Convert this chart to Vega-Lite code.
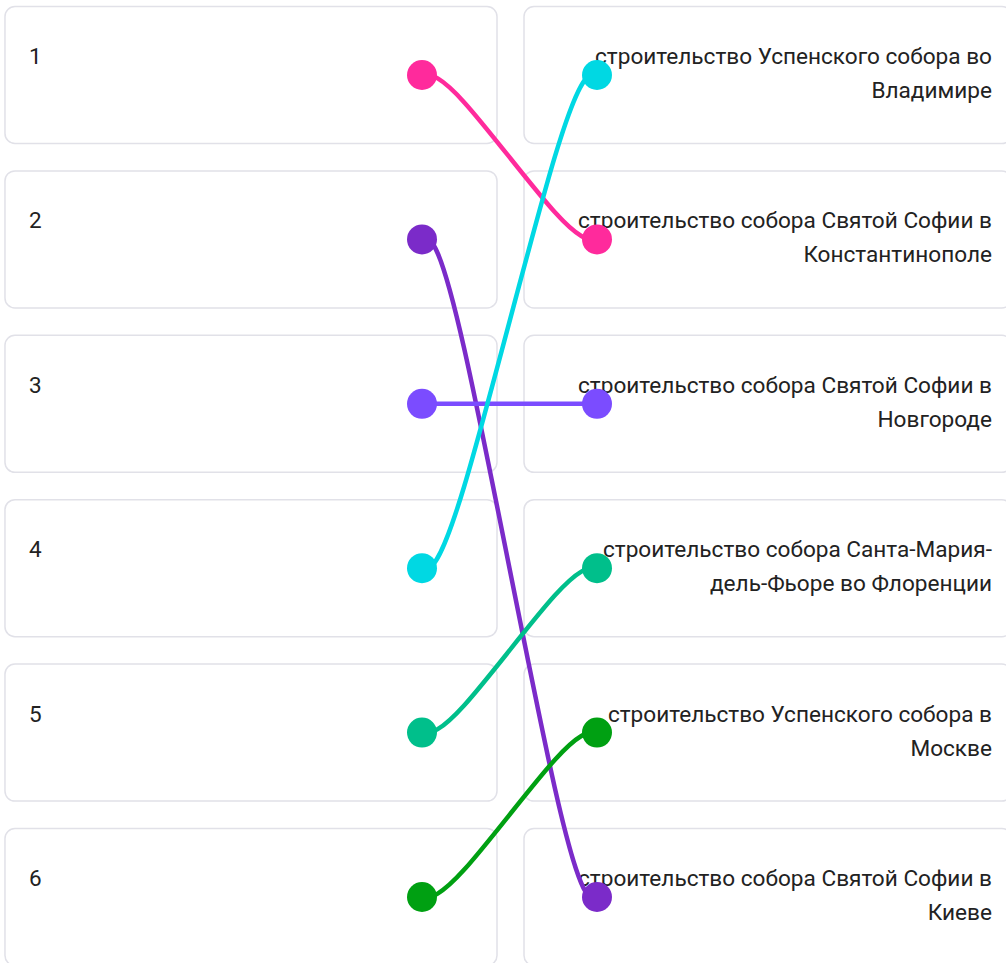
{
  "$schema": "https://vega.github.io/schema/vega-lite/v6.json",
  "width": 1006,
  "height": 963,
  "autosize": {"type": "fit", "contains": "padding"},
  "padding": 0,
  "background": "white",
  "config": {"view": {"stroke": null}},
  "datasets": {
    "left": [
      {"row": 1, "label": "1"},
      {"row": 2, "label": "2"},
      {"row": 3, "label": "3"},
      {"row": 4, "label": "4"},
      {"row": 5, "label": "5"},
      {"row": 6, "label": "6"}
    ],
    "right": [
      {"row": 1, "event": ["строительство Успенского собора во", "Владимире"]},
      {"row": 2, "event": ["строительство собора Святой Софии в", "Константинополе"]},
      {"row": 3, "event": ["строительство собора Святой Софии в", "Новгороде"]},
      {"row": 4, "event": ["строительство собора Санта-Мария-", "дель-Фьоре во Флоренции"]},
      {"row": 5, "event": ["строительство Успенского собора в", "Москве"]},
      {"row": 6, "event": ["строительство собора Святой Софии в", "Киеве"]}
    ],
    "links": [
      {"link": "1-2", "step": 0, "kind": "end", "pos": 0, "row": 1},
      {"link": "1-2", "step": 1, "kind": "ctrl", "pos": 0.15, "row": 1},
      {"link": "1-2", "step": 2, "kind": "ctrl", "pos": 0.85, "row": 2},
      {"link": "1-2", "step": 3, "kind": "end", "pos": 1, "row": 2},
      {"link": "2-6", "step": 0, "kind": "end", "pos": 0, "row": 2},
      {"link": "2-6", "step": 1, "kind": "ctrl", "pos": 0.15, "row": 2},
      {"link": "2-6", "step": 2, "kind": "ctrl", "pos": 0.85, "row": 6},
      {"link": "2-6", "step": 3, "kind": "end", "pos": 1, "row": 6},
      {"link": "3-3", "step": 0, "kind": "end", "pos": 0, "row": 3},
      {"link": "3-3", "step": 1, "kind": "ctrl", "pos": 0.15, "row": 3},
      {"link": "3-3", "step": 2, "kind": "ctrl", "pos": 0.85, "row": 3},
      {"link": "3-3", "step": 3, "kind": "end", "pos": 1, "row": 3},
      {"link": "4-1", "step": 0, "kind": "end", "pos": 0, "row": 4},
      {"link": "4-1", "step": 1, "kind": "ctrl", "pos": 0.15, "row": 4},
      {"link": "4-1", "step": 2, "kind": "ctrl", "pos": 0.85, "row": 1},
      {"link": "4-1", "step": 3, "kind": "end", "pos": 1, "row": 1},
      {"link": "5-4", "step": 0, "kind": "end", "pos": 0, "row": 5},
      {"link": "5-4", "step": 1, "kind": "ctrl", "pos": 0.15, "row": 5},
      {"link": "5-4", "step": 2, "kind": "ctrl", "pos": 0.85, "row": 4},
      {"link": "5-4", "step": 3, "kind": "end", "pos": 1, "row": 4},
      {"link": "6-5", "step": 0, "kind": "end", "pos": 0, "row": 6},
      {"link": "6-5", "step": 1, "kind": "ctrl", "pos": 0.15, "row": 6},
      {"link": "6-5", "step": 2, "kind": "ctrl", "pos": 0.85, "row": 5},
      {"link": "6-5", "step": 3, "kind": "end", "pos": 1, "row": 5}
    ]
  },
  "layer": [
    {
      "data": {"name": "left"},
      "mark": {"type": "rect", "height": 137, "fill": "white", "stroke": "#E1E1E8", "strokeWidth": 1.5, "cornerRadius": 10, "clip": true},
      "encoding": {
        "x": {"datum": -2.383, "type": "quantitative", "scale": {"domain": [-2.4114, 3.3371], "nice": false, "zero": false}, "axis": null},
        "x2": {"datum": 0.4286},
        "y": {"field": "row", "type": "quantitative", "scale": {"domain": [0.5438, 6.4015], "reverse": true, "nice": false, "zero": false}, "axis": null}
      }
    },
    {
      "data": {"name": "right"},
      "mark": {"type": "rect", "height": 137, "fill": "white", "stroke": "#E1E1E8", "strokeWidth": 1.5, "cornerRadius": 10, "clip": true},
      "encoding": {
        "x": {"datum": 0.5829, "type": "quantitative"},
        "x2": {"datum": 3.37},
        "y": {"field": "row", "type": "quantitative"}
      }
    },
    {
      "data": {"name": "left"},
      "mark": {"type": "text", "align": "left", "baseline": "middle", "dy": -18, "font": "Roboto", "fontSize": 22.5, "color": "#222222"},
      "encoding": {
        "x": {"datum": -2.245, "type": "quantitative"},
        "y": {"field": "row", "type": "quantitative"},
        "text": {"field": "label"}
      }
    },
    {
      "data": {"name": "right"},
      "mark": {"type": "text", "align": "right", "baseline": "middle", "dy": -18, "lineHeight": 34, "font": "Roboto", "fontSize": 22.6, "color": "#222222"},
      "encoding": {
        "x": {"datum": 3.257, "type": "quantitative"},
        "y": {"field": "row", "type": "quantitative"},
        "text": {"field": "event"}
      }
    },
    {
      "data": {"name": "links"},
      "mark": {"type": "line", "interpolate": "basis", "strokeWidth": 4.5, "strokeCap": "round"},
      "encoding": {
        "x": {"field": "pos", "type": "quantitative"},
        "y": {"field": "row", "type": "quantitative"},
        "detail": {"field": "link"},
        "order": {"field": "step"},
        "color": {"field": "link", "type": "nominal", "legend": null,
          "scale": {"domain": ["1-2", "2-6", "3-3", "4-1", "5-4", "6-5"], "range": ["#FF2A9C", "#7B2BC9", "#7B4CFF", "#00D8E3", "#00BF8B", "#00A012"]}}
      }
    },
    {
      "data": {"name": "links"},
      "transform": [{"filter": "datum.kind === 'end'"}],
      "mark": {"type": "circle", "size": 900, "opacity": 1},
      "encoding": {
        "x": {"field": "pos", "type": "quantitative"},
        "y": {"field": "row", "type": "quantitative"},
        "color": {"field": "link", "type": "nominal", "legend": null}
      }
    }
  ]
}
